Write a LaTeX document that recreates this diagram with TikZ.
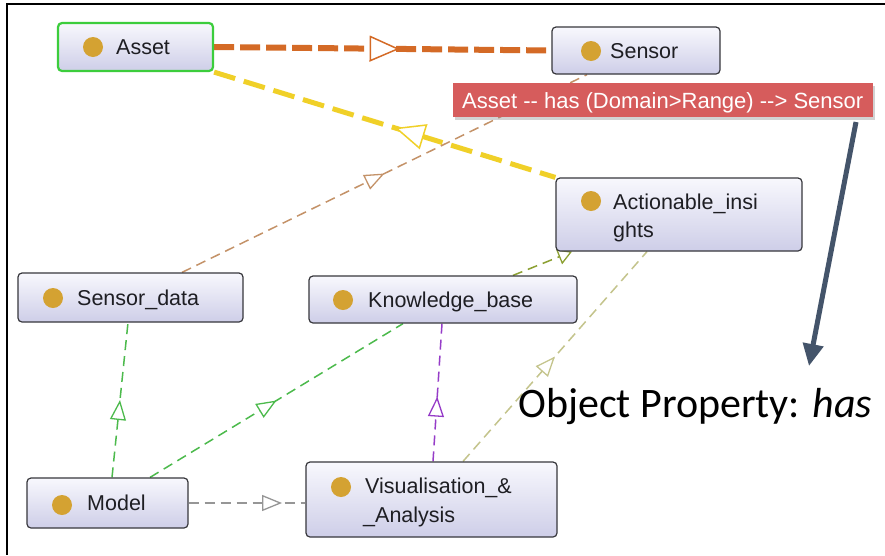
\documentclass[tikz,border=0pt]{standalone}
\usepackage{fontspec}
\setmainfont{Liberation Sans}
\newfontfamily\plainsans{Liberation Sans}
\newfontfamily\calibfont{Carlito}
\usetikzlibrary{arrows.meta,decorations.markings,shadows}
\pgfdeclarelayer{back}
\pgfdeclarelayer{bg}
\pgfsetlayers{back,bg,main}
\definecolor{orangec}{RGB}{212,106,38}
\definecolor{yellowc}{RGB}{240,208,40}
\definecolor{brownc}{RGB}{196,146,104}
\definecolor{greenc}{RGB}{76,186,76}
\definecolor{purplec}{RGB}{150,60,200}
\definecolor{khakic}{RGB}{196,196,140}
\definecolor{olivec}{RGB}{140,160,50}
\definecolor{greyc}{RGB}{150,150,150}
\definecolor{nodeborder}{RGB}{55,55,60}
\definecolor{nodetop}{RGB}{248,248,253}
\definecolor{nodebot}{RGB}{206,206,232}
\definecolor{dotcol}{RGB}{212,162,50}
\definecolor{assetgreen}{RGB}{60,205,60}
\definecolor{labelred}{RGB}{214,92,92}
\definecolor{slate}{RGB}{68,84,106}
\definecolor{txtcol}{RGB}{30,30,35}
\begin{document}
\begin{tikzpicture}[x=1pt,y=-1pt,
  cls/.style={draw=nodeborder, line width=1.2pt, rounded corners=4pt,
    top color=nodetop, bottom color=nodebot, inner sep=0pt},
  dot/.style={circle, fill=dotcol, minimum size=20pt, inner sep=0pt},
  lbl/.style={anchor=base west, font=\plainsans\fontsize{21.5}{25}\selectfont, text=txtcol, inner sep=0pt},
  thinedge/.style={line width=1.5pt, dash pattern=on 10pt off 6pt},
  marrow/.style={postaction={decorate}, decoration={markings,
    mark=at position #1 with {\arrow[line width=1.3pt]{Triangle[fill=white,length=20pt,width=16pt]}}}},
  rmarrow/.style={postaction={decorate}, decoration={markings,
    mark=at position #1 with {\arrowreversed[line width=1.5pt]{Triangle[fill=white,length=30pt,width=26pt]}}}},
  bigmarrow/.style={postaction={decorate}, decoration={markings,
    mark=at position #1 with {\arrow[line width=1.5pt]{Triangle[fill=white,length=30pt,width=26pt]}}}}
]
\useasboundingbox (0,0) rectangle (885,555);
\begin{pgfonlayer}{back}
\fill[white] (0,0) rectangle (885,555);
\end{pgfonlayer}

% frame
\draw[line width=2.5pt] (885,4) -- (7,4) -- (7,555);

% nodes
\node[cls, draw=assetgreen, line width=2.2pt, minimum width=155pt, minimum height=48pt] (asset) at (135.5,47) {};
\node[dot] (assetdot) at (93,47) {};
\node[lbl] (assettxt) at (116,54.5) {Asset};

\node[cls, minimum width=168pt, minimum height=47pt] (sensor) at (636,50.5) {};
\node[dot] (sensordot) at (591,51) {};
\node[lbl] (sensortxt) at (610,58) {Sensor};

\node[cls, minimum width=246pt, minimum height=73pt] (action) at (679,214.5) {};
\node[dot] (actiondot) at (591,201) {};
\node[lbl] (actiontxt1) at (613,209) {Actionable\_insi};
\node[lbl] (actiontxt2) at (613,237) {ghts};

\node[cls, minimum width=225pt, minimum height=49pt] (sdata) at (130.5,297.5) {};
\node[dot] (sdatadot) at (53,298) {};
\node[lbl] (sdatatxt) at (77,305) {Sensor\_data};

\node[cls, minimum width=268pt, minimum height=47pt] (kb) at (443,299.5) {};
\node[dot] (kbdot) at (343,300) {};
\node[lbl] (kbtxt) at (368,307) {Knowledge\_base};

\node[cls, minimum width=161pt, minimum height=50pt] (model) at (107.5,503) {};
\node[dot] (modeldot) at (62,505) {};
\node[lbl] (modeltxt) at (87,510.5) {Model};

\node[cls, minimum width=251pt, minimum height=75pt] (vis) at (431.5,499.5) {};
\node[dot] (visdot) at (341,487) {};
\node[lbl] (vistxt1) at (365,493) {Visualisation\_\&};
\node[lbl] (vistxt2) at (363,522) {\_Analysis};

% edges
\begin{pgfonlayer}{bg}
\draw[orangec, line width=6pt, dash pattern=on 20pt off 6pt, bigmarrow=0.55]
  (asset.east) -- (sensor.west);
\draw[yellowc, line width=5pt, dash pattern=on 22pt off 9pt, rmarrow=0.53]
  (asset.south east) -- (action.north west);
\draw[brownc, thinedge, marrow=0.5]
  ([xshift=51.5pt]sdata.north) -- ([xshift=-49pt]sensor.south);
\draw[greenc, thinedge, marrow=0.5]
  ([xshift=4.5pt]model.north) -- ([xshift=-2.5pt]sdata.south);
\draw[greenc, thinedge, marrow=0.5]
  ([xshift=42.5pt]model.north) -- ([xshift=-40pt]kb.south);
\draw[purplec, thinedge, marrow=0.47]
  ([xshift=1.5pt]vis.north) -- ([xshift=-1pt]kb.south);
\draw[khakic, thinedge, marrow=0.5]
  ([xshift=31.5pt]vis.north) -- ([xshift=-32pt]action.south);
\draw[olivec, thinedge, -{Triangle[fill=white,length=14pt,width=16pt,line width=1.3pt]}]
  ([xshift=70pt]kb.north) -- ([xshift=-107pt]action.south);
\draw[greyc, thinedge, marrow=0.8]
  (model.east) -- (model.east -| vis.west);
\end{pgfonlayer}

% edge label
\node[fill=labelred, minimum width=420pt, minimum height=34pt, inner sep=0pt,
  drop shadow={shadow xshift=2pt, shadow yshift=-3pt, opacity=0.35}] (edgelbl) at (663,100) {};
\node[anchor=base west, inner sep=0pt, text=white, font=\plainsans\fontsize{22}{26}\selectfont]
  (edgelbltxt) at (462,108) {Asset -\kern0pt- has (Domain>Range) -\kern0pt-> Sensor};

% annotation
\coordinate (arrowstart) at (856,122);
\coordinate (arrowend) at (809,366);
\draw[slate, line width=5pt, -{Triangle[length=22pt,width=20pt]}] (arrowstart) -- (arrowend);
\node[anchor=base west, inner sep=0pt, font=\calibfont\fontsize{42}{48}\selectfont] (objprop)
  at (518,417) {Object Property: \textit{has}};
\end{tikzpicture}
\end{document}
